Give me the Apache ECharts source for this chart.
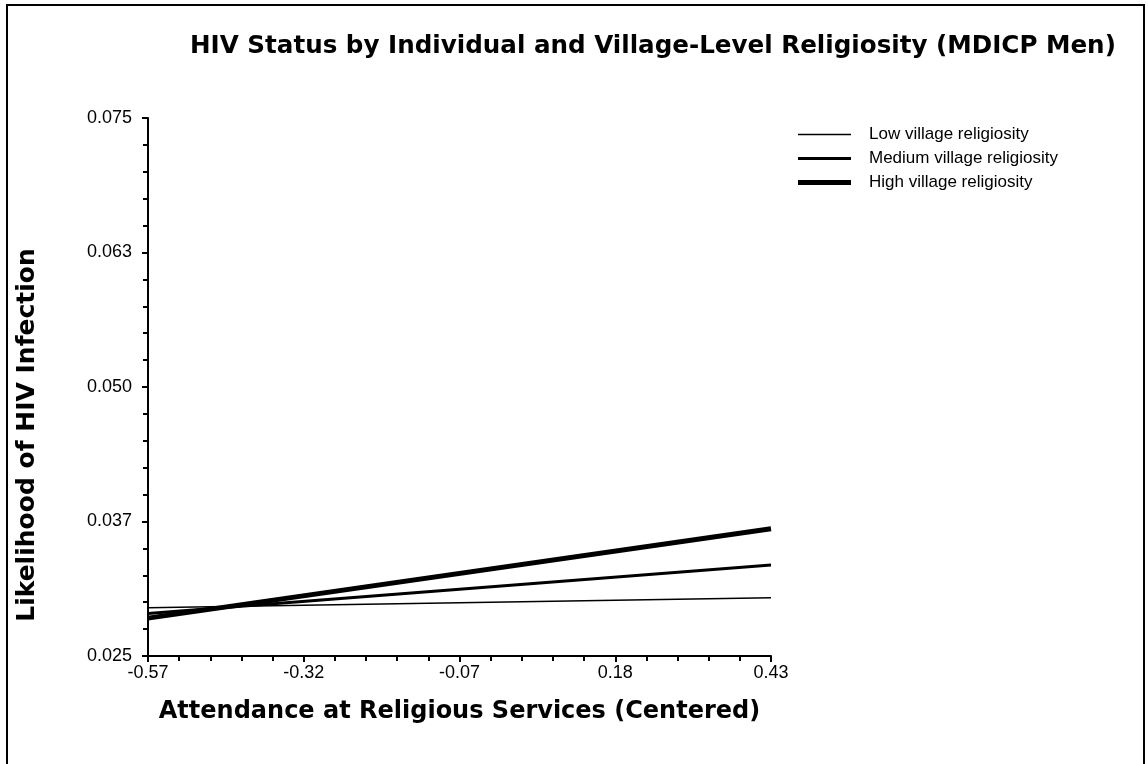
<!DOCTYPE html>
<html>
<head>
<meta charset="utf-8">
<script src="https://cdn.jsdelivr.net/npm/echarts@6/dist/echarts.min.js"></script>
<style>
  html, body { margin: 0; padding: 0; background: #fff; overflow: hidden; }
  #chart { position: absolute; left: 0; top: 0; width: 1148px; height: 764px; }
  #frame { position: absolute; left: 6px; top: 4px; width: 1135px; height: 800px;
           border: 2px solid #000; pointer-events: none; }
</style>
</head>
<body>
<div id="chart"></div>
<div id="frame"></div>
<script>
// Attendance at religious services (centered), endpoints of each fitted line
const xValues = [-0.57, 0.43];
const xTickLabels = ['-0.57', '-0.32', '-0.07', '0.18', '0.43'];
const yTickLabels = ['0.025', '0.037', '0.050', '0.063', '0.075'];

// Predicted likelihood of HIV infection by village religiosity
const seriesNames = ['Low village religiosity', 'Medium village religiosity', 'High village religiosity'];
const lowValues = [0.02948, 0.03041];
const mediumValues = [0.02896, 0.03346];
const highValues = [0.02852, 0.03682];
const lineWidths = [1.5, 3, 5];

const xMin = xValues[0];
const xStep = 0.25;
const yMin = 0.025, yMax = 0.075, yStep = 0.0125;

// x is plotted as an offset from the lowest attendance value so ticks start at 0
const toPoints = vals => vals.map((v, i) => [xValues[i] - xMin, v]);

const sans = 'Liberation Sans, Arial, Helvetica, sans-serif';
const wide = 'DejaVu Sans, Verdana, sans-serif';
const chart = echarts.init(document.getElementById('chart'), null, { renderer: 'canvas' });

const allValues = [lowValues, mediumValues, highValues];

// legend key: a horizontal bar of the series' line width, centred in a 53x14 box
const ICON_W = 53, ICON_H = 14;
const legendIcon = w => {
  const t = (ICON_H - w) / 2, b = (ICON_H + w) / 2;
  return `path://M0,0L0,0M${ICON_W},${ICON_H}L${ICON_W},${ICON_H}` +
         `M0,${t}L${ICON_W},${t}L${ICON_W},${b}L0,${b}Z`;
};

chart.setOption({
  animation: false,
  backgroundColor: '#fff',
  title: {
    text: 'HIV Status by Individual and Village-Level Religiosity (MDICP Men)',
    left: 190,
    top: 34,
    padding: 0,
    textStyle: { fontFamily: wide, fontSize: 24.6, fontWeight: 'bold', color: '#000' }
  },
  legend: {
    orient: 'vertical',
    left: 798,
    top: 126,
    padding: 0,
    itemWidth: ICON_W,
    itemHeight: ICON_H,
    itemGap: 7,
    textStyle: { fontFamily: sans, fontSize: 17, color: '#000', padding: [0, 0, 0, 13] },
    data: seriesNames.map((n, i) => ({
      name: n,
      icon: legendIcon(lineWidths[i]),
      itemStyle: { color: '#000', borderWidth: 0 }
    }))
  },
  grid: { left: 148, right: 377, top: 118, bottom: 108, containLabel: false },
  xAxis: {
    type: 'value',
    min: 0,
    max: xValues[1] - xMin,
    interval: xStep,
    name: 'Attendance at Religious Services (Centered)',
    nameLocation: 'middle',
    nameGap: 44,
    nameTextStyle: { fontFamily: wide, fontSize: 24, fontWeight: 'bold', color: '#000' },
    axisLine: { show: true, onZero: false, lineStyle: { color: '#000', width: 2 } },
    axisTick: { show: true, length: 6, lineStyle: { color: '#000', width: 2 } },
    minorTick: { show: true, splitNumber: 5, length: 5, lineStyle: { color: '#000', width: 2 } },
    splitLine: { show: false },
    axisLabel: {
      fontFamily: sans, fontSize: 18, color: '#000', margin: 8,
      formatter: v => xTickLabels[Math.round(v / xStep)]
    }
  },
  yAxis: {
    type: 'value',
    min: yMin,
    max: yMax,
    interval: yStep,
    name: 'Likelihood of HIV Infection',
    nameLocation: 'middle',
    nameGap: 108,
    // extra right padding moves the rotated title down along the axis
    nameTextStyle: { fontFamily: wide, fontSize: 25, fontWeight: 'bold', color: '#000', padding: [0, 96, 0, 0] },
    axisLine: { show: true, lineStyle: { color: '#000', width: 2 } },
    axisTick: { show: true, length: 6, lineStyle: { color: '#000', width: 2 } },
    minorTick: { show: true, splitNumber: 5, length: 5, lineStyle: { color: '#000', width: 2 } },
    splitLine: { show: false },
    axisLabel: {
      fontFamily: sans, fontSize: 18, color: '#000', margin: 16,
      formatter: v => yTickLabels[Math.round((v - yMin) / yStep)]
    }
  },
  series: seriesNames.map((n, i) => ({
    name: n,
    type: 'line',
    data: toPoints(allValues[i]),
    showSymbol: false,
    symbol: 'none',
    color: '#000',
    lineStyle: { color: '#000', width: lineWidths[i], cap: 'butt' },
    z: 2 + i
  }))
});
</script>
</body>
</html>
